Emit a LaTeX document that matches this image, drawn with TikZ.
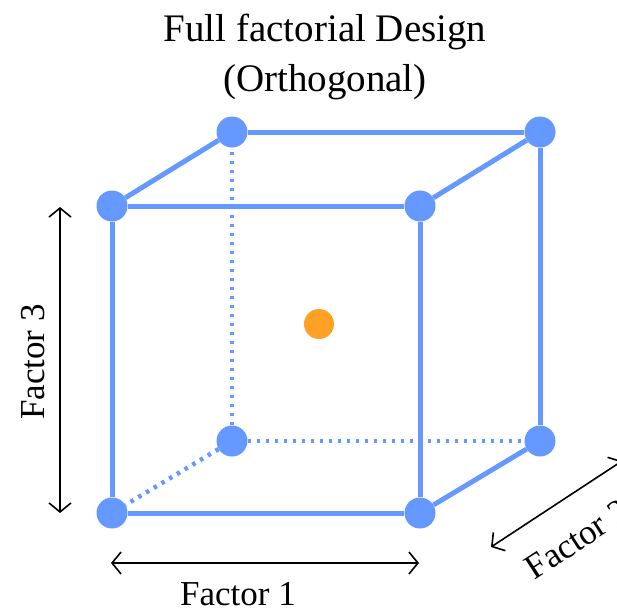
\documentclass[tikz,border=0pt]{standalone}
\usepackage{fontspec}
\setmainfont{Liberation Serif}
\usetikzlibrary{arrows.meta}

\definecolor{cubeblue}{RGB}{102,153,255}
\definecolor{centerorange}{RGB}{255,161,36}

\tikzset{
    corner/.style={circle, fill=cubeblue, inner sep=0pt, minimum size=31pt},
    edge/.style={draw=cubeblue, line width=5pt},
    hidden/.style={draw=cubeblue, line width=4.5pt, dash pattern=on 3.5pt off 5.5pt},
    factor/.style={black, line width=1.6pt, {Straight Barb[length=9pt,width=22pt]}-{Straight Barb[length=9pt,width=22pt]}},
    flabel/.style={font=\fontsize{35}{40}\selectfont}
}

\begin{document}
\begin{tikzpicture}[x=1pt, y=-1pt]
    \clip (0,0) rectangle (617,608);

    % Title
    \node[align=center, font=\fontsize{39}{50}\selectfont] (title) at (325,57) {Full factorial Design\\(Orthogonal)};

    % Cube corners (front face, then back face)
    \node[corner] (fbl) at (112,513) {};
    \node[corner] (fbr) at (420,513) {};
    \node[corner] (ftl) at (112,206) {};
    \node[corner] (ftr) at (420,206) {};
    \node[corner] (bbl) at (232,441) {};
    \node[corner] (bbr) at (540,441) {};
    \node[corner] (btl) at (232,132) {};
    \node[corner] (btr) at (540,132) {};

    % Centre point
    \node[circle, fill=centerorange, inner sep=0pt, minimum size=30pt] (ctr) at (319,324) {};

    % Hidden edges
    \draw[hidden] (bbl) -- (btl);
    \draw[hidden] (bbl) -- (bbr);
    \draw[hidden] (bbl) -- (fbl);

    % Visible edges
    \draw[edge] (fbl) -- (fbr) -- (ftr) -- (ftl) -- (fbl);
    \draw[edge] (btl) -- (btr) -- (bbr);
    \draw[edge] (ftl) -- (btl);
    \draw[edge] (ftr) -- (btr);
    \draw[edge] (fbr) -- (bbr);

    % Factor arrows
    \coordinate (f1a) at (111,563);
    \coordinate (f1b) at (419,563);
    \draw[factor] (f1a) -- (f1b);
    \node[flabel] (f1) at (238,594) {Factor 1};

    \coordinate (f3a) at (60,207);
    \coordinate (f3b) at (60,513);
    \draw[factor] (f3a) -- (f3b);
    \node[flabel, rotate=90] (f3) at (33,362) {Factor 3};

    \coordinate (f2a) at (491,547);
    \coordinate (f2b) at (622,461);
    \draw[factor] (f2a) -- (f2b);
    \node[flabel, rotate=33] (f2) at (577,539) {Factor 2};
\end{tikzpicture}
\end{document}
